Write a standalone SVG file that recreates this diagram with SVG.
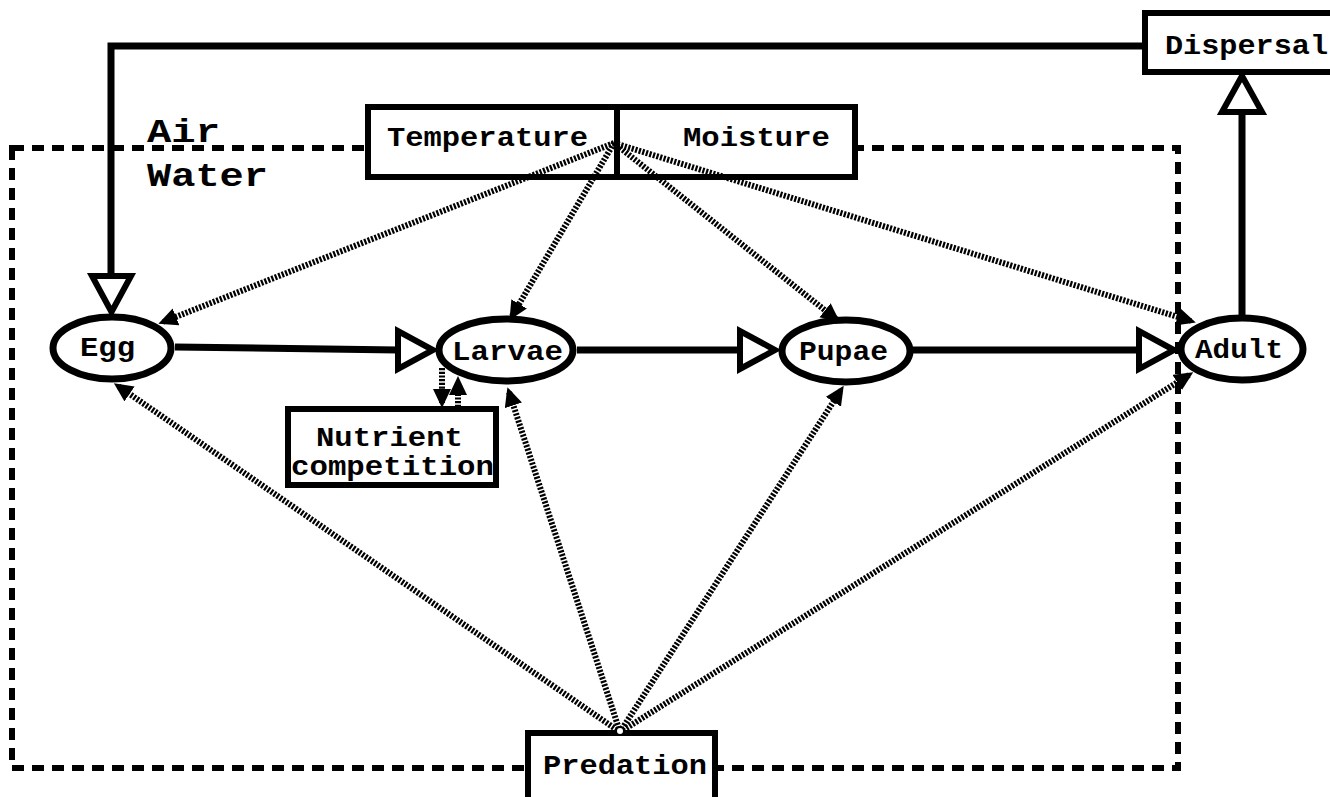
<svg xmlns="http://www.w3.org/2000/svg" width="1330" height="797" viewBox="0 0 1330 797">
<style>
.t{font-family:"Liberation Mono","DejaVu Sans Mono",monospace;font-weight:bold;fill:#000;}
.n{font-size:27px;}
.big{font-size:34px;}
.box{fill:#fff;stroke:#000;stroke-width:6;}
.ell{fill:#fff;stroke:#000;stroke-width:7;}
.solid{fill:none;stroke:#000;stroke-width:7;}
.hollow{fill:#fff;stroke:#000;stroke-width:6;stroke-linejoin:miter;}
.dot{fill:none;stroke:#000;stroke-width:6;stroke-dasharray:2.2 1.5;marker-end:url(#ah);}
.border{fill:none;stroke:#000;stroke-width:6;stroke-dasharray:12 8;}
</style>
<defs>
<marker id="ah" markerUnits="userSpaceOnUse" markerWidth="22" markerHeight="20" refX="14" refY="9" orient="auto">
<path d="M0,0 L19,9 L0,18 Z" fill="#000"/>
</marker>
</defs>
<rect width="1330" height="797" fill="#fff"/>
<g id="environment-border">
<path class="border" d="M12,148 H1178 V768 H12 Z"/>
</g>
<g id="labels-air-water">
<text class="t big" x="147" y="142" textLength="73" lengthAdjust="spacingAndGlyphs">Air</text>
<text class="t big" x="147" y="186" textLength="121" lengthAdjust="spacingAndGlyphs">Water</text>
</g>
<g id="temperature">
<rect class="box" x="368" y="107" width="249" height="70"/>
<text class="t n" x="387" y="146" textLength="201" lengthAdjust="spacingAndGlyphs">Temperature</text>
</g>
<g id="moisture">
<rect class="box" x="617" y="107" width="238" height="70"/>
<text class="t n" x="683" y="146" textLength="147" lengthAdjust="spacingAndGlyphs">Moisture</text>
</g>
<g id="dispersal">
<rect class="box" x="1145" y="13" width="200" height="59"/>
<text class="t n" x="1165" y="54" textLength="163" lengthAdjust="spacingAndGlyphs">Dispersal</text>
</g>
<g id="nutrient-competition">
<rect class="box" x="288" y="409" width="208" height="76"/>
<text class="t n" x="316" y="446" textLength="147" lengthAdjust="spacingAndGlyphs">Nutrient</text>
<text class="t n" x="291" y="475" textLength="203" lengthAdjust="spacingAndGlyphs">competition</text>
</g>
<g id="predation">
<rect class="box" x="528" y="733" width="187" height="75"/>
<text class="t n" x="543" y="774" textLength="164" lengthAdjust="spacingAndGlyphs">Predation</text>
</g>
<g id="connectors">
<polyline class="solid" points="1145,46 111,46 111,276"/>
<polygon class="hollow" points="92,276 131,276 111.5,312"/>
<line class="solid" x1="1242" y1="318" x2="1242" y2="112"/>
<polygon class="hollow" points="1222,112 1262,112 1242,76"/>
<line class="solid" x1="175" y1="347" x2="398" y2="350"/>
<polygon class="hollow" points="398,331 398,369 433,350"/>
<line class="solid" x1="577" y1="350" x2="740" y2="350"/>
<polygon class="hollow" points="740,331 740,369 775,350"/>
<line class="solid" x1="913" y1="350" x2="1139" y2="350"/>
<polygon class="hollow" points="1139,331 1139,369 1174,350"/>
<line class="dot" x1="614" y1="143" x2="163" y2="322"/>
<line class="dot" x1="614" y1="143" x2="512" y2="316"/>
<line class="dot" x1="614" y1="143" x2="836" y2="319"/>
<line class="dot" x1="614" y1="143" x2="1191" y2="321"/>
<line class="dot" x1="620" y1="732" x2="118" y2="386"/>
<line class="dot" x1="620" y1="732" x2="509" y2="392"/>
<line class="dot" x1="620" y1="732" x2="841" y2="390"/>
<line class="dot" x1="620" y1="732" x2="1189" y2="375"/>
<line class="dot" x1="442" y1="368" x2="442" y2="403"/>
<line class="dot" x1="458" y1="407" x2="458" y2="381"/>
<circle cx="620" cy="731" r="4" fill="#fff" stroke="#000" stroke-width="2"/>
</g>
<g id="egg">
<ellipse class="ell" cx="112" cy="348" rx="59" ry="31"/>
<text class="t n" x="80" y="356" textLength="55" lengthAdjust="spacingAndGlyphs">Egg</text>
</g>
<g id="larvae">
<ellipse class="ell" cx="506" cy="350" rx="67" ry="31"/>
<text class="t n" x="452" y="360" textLength="111" lengthAdjust="spacingAndGlyphs">Larvae</text>
</g>
<g id="pupae">
<ellipse class="ell" cx="846" cy="351" rx="64" ry="31"/>
<text class="t n" x="799" y="360" textLength="89" lengthAdjust="spacingAndGlyphs">Pupae</text>
</g>
<g id="adult">
<ellipse class="ell" cx="1242" cy="349" rx="61" ry="31"/>
<text class="t n" x="1195" y="358" textLength="88" lengthAdjust="spacingAndGlyphs">Adult</text>
</g>
</svg>
